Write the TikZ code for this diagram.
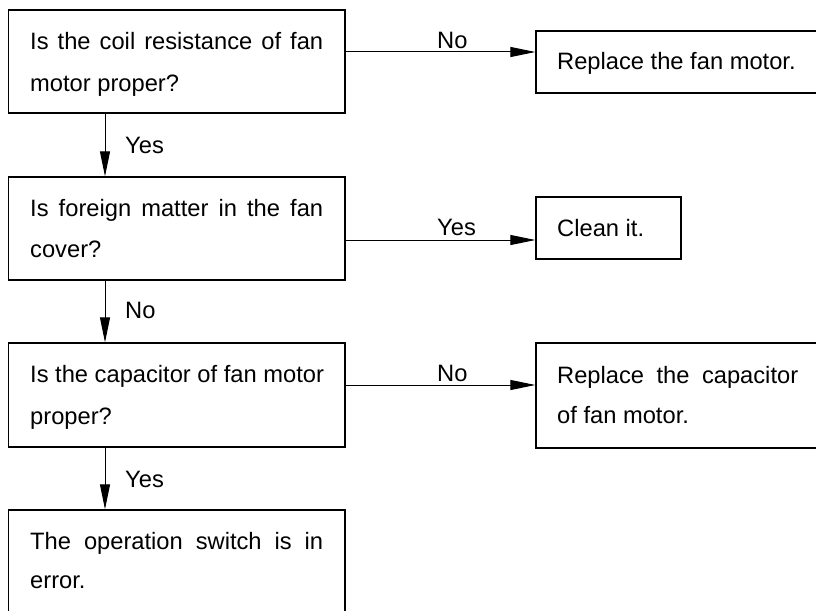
\documentclass[tikz,border=0pt]{standalone}
\usepackage{fontspec}
\setmainfont{Liberation Sans}
\usetikzlibrary{arrows.meta}
\tikzset{
  box/.style={draw=black, line width=1.3pt, rectangle, inner sep=0pt},
  txt/.style={anchor=base west, inner sep=0pt, font=\fontsize{23.7}{42}\selectfont},
  arr/.style={draw=black, line width=1pt, -{Triangle[length=25pt,width=10pt]}},
}
\newcommand{\fillline}[1]{\makebox[293pt][s]{#1}}
\begin{document}
\begin{tikzpicture}[x=1pt,y=-1pt]
\useasboundingbox (0,0) rectangle (816,610);
\clip (0,0) rectangle (816,610);
\fill[white] (0,0) rectangle (816,610);
% boxes
\node[box, minimum width=336.5pt, minimum height=103pt] (b1) at (176.75,61.5) {};
\node[box, minimum width=336.5pt, minimum height=103pt] (b2) at (176.75,228.5) {};
\node[box, minimum width=336.5pt, minimum height=104pt] (b3) at (176.75,395) {};
\node[box, minimum width=336.5pt, minimum height=104pt] (b4) at (176.75,562) {};
\node[box, minimum width=282pt, minimum height=62pt] (r1) at (677,62) {};
\node[box, minimum width=145pt, minimum height=62pt] (r2) at (608.5,228) {};
\node[box, minimum width=282pt, minimum height=105pt] (r3) at (677,395.5) {};
% texts
\node[txt] (t1a) at (30,50) {\fillline{Is the coil resistance of fan}};
\node[txt] (t1b) at (30,91) {motor proper?};
\node[txt] (t2a) at (30,216.7) {\fillline{Is foreign matter in the fan}};
\node[txt] (t2b) at (30,257.5) {cover?};
\node[txt] (t3a) at (30,382.7) {Is the capacitor of fan motor};
\node[txt] (t3b) at (30,424.5) {proper?};
\node[txt] (t4a) at (30,549) {\fillline{The operation switch is in}};
\node[txt] (t4b) at (30,588.5) {error.};
\node[txt] (s1) at (557,70) {Replace the fan motor.};
\node[txt] (s2) at (557,236.7) {Clean it.};
\node[txt] (s3a) at (557,383) {\makebox[241pt][s]{Replace the capacitor}};
\node[txt] (s3b) at (557,423.5) {of fan motor.};
% guide coordinates
\coordinate (vx) at (105,0);
\coordinate (h1) at (0,52);
\coordinate (h2) at (0,240);
\coordinate (h3) at (0,385);
% connectors
\draw[arr] (b1.east |- h1) -- (r1.west |- h1);
\draw[arr] (b2.east |- h2) -- (r2.west |- h2);
\draw[arr] (b3.east |- h3) -- (r3.west |- h3);
\draw[arr] (b1.south -| vx) -- (b2.north -| vx);
\draw[arr] (b2.south -| vx) -- (b3.north -| vx);
\draw[arr] (b3.south -| vx) -- (b4.north -| vx);
% labels
\node[txt] (l1) at (437,48.3) {No};
\node[txt] (l2) at (437,235.7) {Yes};
\node[txt] (l3) at (437,381.7) {No};
\node[txt] (l4) at (125,153) {Yes};
\node[txt] (l5) at (125,318) {No};
\node[txt] (l6) at (125,487) {Yes};
\end{tikzpicture}
\end{document}
